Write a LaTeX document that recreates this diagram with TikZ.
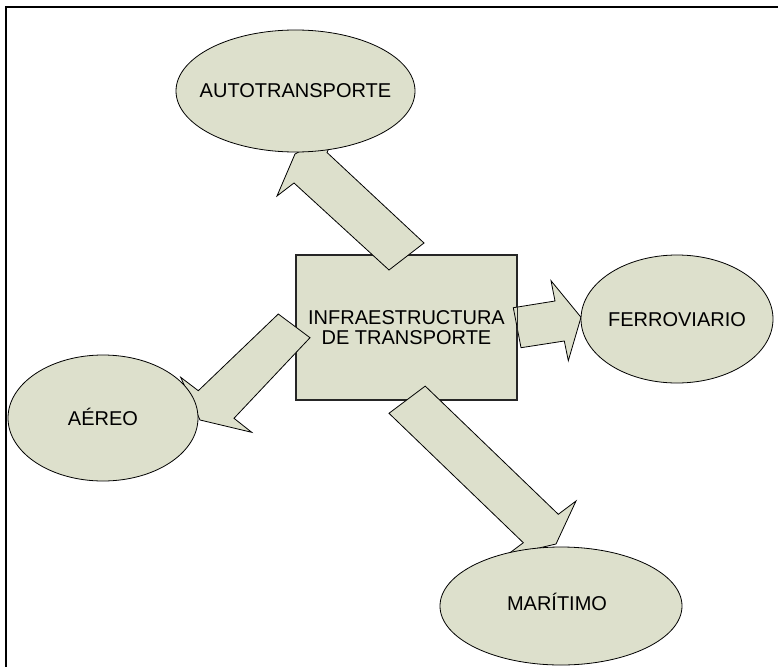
\documentclass[tikz,border=0pt]{standalone}
\usepackage{fontspec}
\setmainfont{Liberation Sans}
\usetikzlibrary{shapes.geometric}
\definecolor{shapefill}{RGB}{221,224,204}
\begin{document}
\begin{tikzpicture}[x=1pt,y=-1pt,
  bubble/.style={ellipse, draw=black, line width=0.8pt, fill=shapefill, inner sep=0pt},
  bubbletext/.style={inner sep=0pt, font=\fontsize{20}{20}\selectfont, text height=14pt, text depth=0pt},
  hubbox/.style={rectangle, draw=black!85, line width=1.1pt, fill=shapefill, inner sep=0pt,
    align=center, font=\fontsize{20}{20}\selectfont},
  blockarrow/.style={draw=black, line width=0.8pt, fill=shapefill, line join=miter},
  frameline/.style={line width=2pt, draw=black}]
\useasboundingbox (0,0) rectangle (778,666);
% frame
\coordinate (fbl) at (6,667);
\coordinate (ftl) at (6,6.7);
\coordinate (ftr) at (779,6.7);
\draw[frameline] (fbl) -- (ftl) -- (ftr);
% central box
\node[hubbox, minimum width=221pt, minimum height=145pt] (hub) at (406.5,327.5)
  {INFRAESTRUCTURA\\DE TRANSPORTE};
% block arrows
\filldraw[blockarrow] (389,270) -- (294,183) -- (277,196) -- (295,154) -- (336,132)
  -- (327,152.5) -- (424,243) -- cycle;
\filldraw[blockarrow] (513.3,307.7) -- (555,301) -- (551,280.7) -- (581,317.3)
  -- (568.3,360.7) -- (564.3,341) -- (521,347.7) -- cycle;
\draw[draw=black!85, line width=1.1pt] (hub.north east) -- (hub.south east);
\filldraw[blockarrow] (278.3,314) -- (198.3,390.7) -- (180.7,377.3) -- (200,420)
  -- (251.7,432.3) -- (234,418.3) -- (310,337.7) -- cycle;
\filldraw[blockarrow] (389,413.3) -- (523.3,542.7) -- (506,555.7) -- (556,544)
  -- (576,501) -- (558.3,514.3) -- (425.2,386.1) -- cycle;
% ellipses
\node[bubble, minimum width=239pt, minimum height=122pt] (auto) at (295.5,91) {};
\node[bubbletext] (autot) at (auto.center) {AUTOTRANSPORTE};
\node[bubble, minimum width=192pt, minimum height=128pt] (ferro) at (677,319) {};
\node[bubbletext] (ferrot) at (ferro.center) {FERROVIARIO};
\node[bubble, minimum width=190pt, minimum height=126pt] (aereo) at (103,418) {};
\node[bubbletext] (aereot) at (aereo.center) {AÉREO};
\node[bubble, minimum width=242pt, minimum height=118pt] (mari) at (561,606) {};
\node[bubbletext] (marit) at ([yshift=3pt,xshift=-4pt]mari.center) {MARÍTIMO};
\end{tikzpicture}
\end{document}
